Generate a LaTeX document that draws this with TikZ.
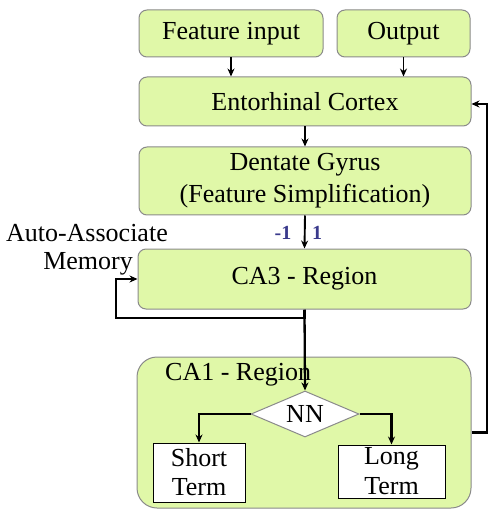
\documentclass[tikz,border=0pt]{standalone}
\usepackage{fontspec}
\setmainfont{Liberation Serif}
\usetikzlibrary{shapes.geometric,arrows.meta}
\definecolor{boxfill}{HTML}{E0F8A8}
\definecolor{boxline}{HTML}{8A8A8A}
\definecolor{lblblue}{HTML}{3A3A8C}
\begin{document}
\begin{tikzpicture}[x=1pt,y=-1pt,
  gbox/.style={draw=boxline,fill=boxfill,line width=1pt,rounded corners=8pt,inner sep=0pt,align=center,font=\fontsize{26}{31}\selectfont},
  wbox/.style={draw=black,fill=white,line width=1pt,inner sep=0pt,align=center},
  arr/.style={-{Stealth[length=8pt,width=7pt]},line width=1.9pt},
  txt/.style={font=\fontsize{26}{30}\selectfont,inner sep=0pt}
]
\useasboundingbox (0,0) rectangle (488,510);
\node[gbox,minimum width=184pt,minimum height=47pt] (fi) at (231,33.5) {Feature input};
\node[gbox,minimum width=133pt,minimum height=47pt] (out) at (403.5,33.5) {Output};
\node[gbox,minimum width=332pt,minimum height=49pt] (ec) at (305,101.5) {Entorhinal Cortex};
\node[gbox,minimum width=332pt,minimum height=68pt,font=\fontsize{26}{32}\selectfont] (dg) at (305,181) {Dentate Gyrus\\(Feature Simplification)};
\node[gbox,minimum width=333pt,minimum height=60pt] (ca3) at (304.5,279) {CA3 - Region};
\node[gbox,rounded corners=20pt,minimum width=334pt,minimum height=151pt] (ca1) at (304,432.5) {};
\node[txt,anchor=west] (ca1t) at (165,375) {CA1 - Region};
\node[diamond,draw=boxline,fill=white,line width=1pt,minimum width=108pt,minimum height=46pt,inner sep=0pt,aspect=2.35,font=\fontsize{26}{30}\selectfont] (nn) at (305,414) {NN};
\node[wbox,minimum width=92pt,minimum height=59pt,font=\fontsize{26}{29}\selectfont] (st) at (199,472.5) {Short\\Term};
\node[wbox,minimum width=107pt,minimum height=53pt,font=\fontsize{26}{30}\selectfont] (lt) at (391.5,471.5) {Long\\Term};
\node[txt,anchor=east] (aa) at (168,233) {Auto-Associate};
\node[txt,anchor=east] (mem) at (133,264) {Memory};
\node[inner sep=0pt,text=lblblue,font=\fontsize{20}{24}\bfseries\selectfont] (m1) at (283,233) {-1};
\node[inner sep=0pt,text=lblblue,font=\fontsize{20}{24}\bfseries\selectfont] (p1) at (317,233) {1};
% arrows
\draw[arr] (fi.south) -- (fi.south |- ec.north);
\draw[arr] (out.south) -- (out.south |- ec.north);
\draw[arr] (ec.south) -- (dg.north);
\draw[arr] (dg.south) -- (ca3.south |- ca3.north);
\coordinate (lp) at (116,318);
\coordinate (fb) at (487,104);
\draw[arr,line width=2.3pt] (ca3.south) -- (ca3.south |- lp) -| (lp) |- (ca3.west);
\draw[arr,line width=2.3pt] (ca3.south) -- (nn.north);
\draw[arr,line width=2.3pt] (nn.west) -| (st.north);
\draw[arr,line width=2.3pt] (nn.east) -| (lt.north);
\draw[arr,line width=2.3pt] (ca1.east) -| (fb) -- (ec.east |- fb);
\end{tikzpicture}
\end{document}
